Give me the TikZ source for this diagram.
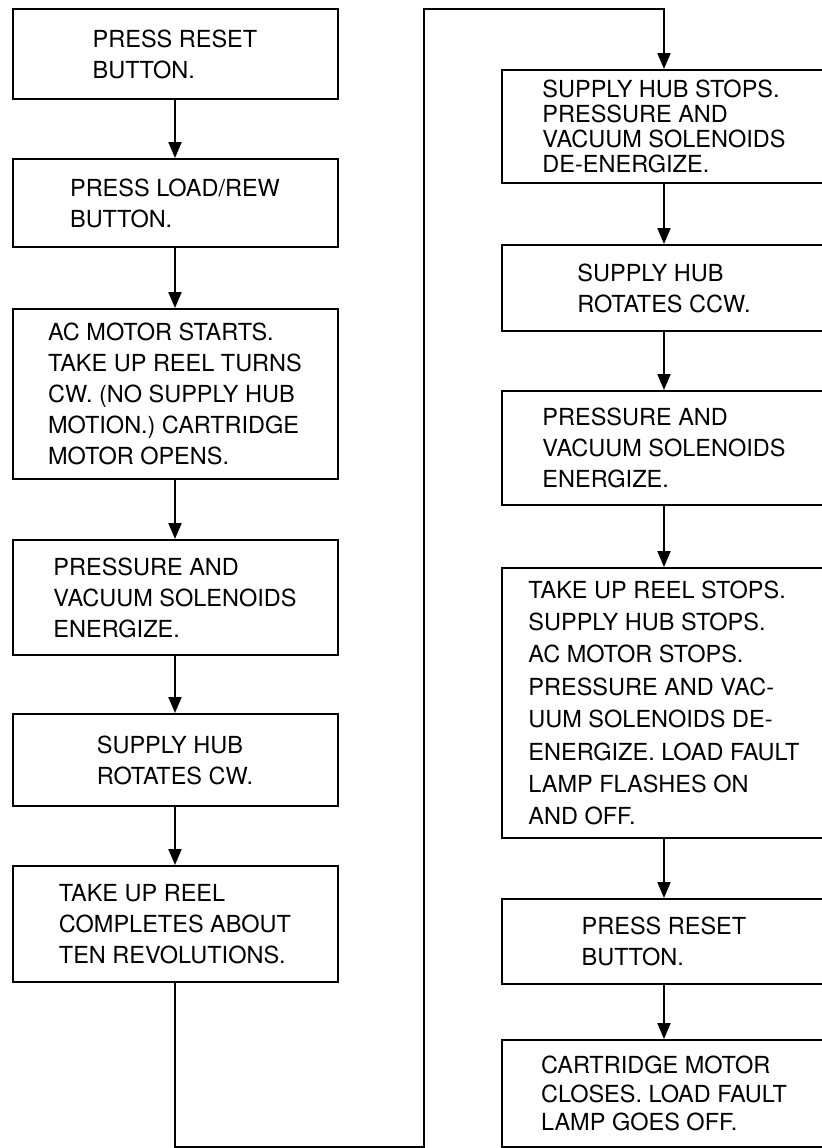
\documentclass[tikz,border=0pt]{standalone}
\usepackage{fontspec}
\setmainfont{TeX Gyre Heros}
\usepackage{tikz}
\usetikzlibrary{arrows.meta}

\begin{document}
\begin{tikzpicture}[x=1pt,y=-1pt]
		\clip (0,0) rectangle (411,574);
		\tikzstyle{every node}+=[draw,line width=1pt,rectangle,align=left,inner sep=0pt,font=\fontsize{11.75}{15.5}\selectfont]
		\tikzstyle{lcol}=[minimum width=162.5pt]
		\tikzstyle{rcol}=[minimum width=162pt]
		% left column
		\node[lcol,minimum height=45pt] (rst) at (87.5,27) {PRESS RESET\\BUTTON.};
		\node[lcol,minimum height=44pt] (load) at (87.5,101.5) {PRESS LOAD/REW\\BUTTON.};
		\node[lcol,minimum height=85pt] (acm) at (87.5,197) {AC MOTOR STARTS.\\TAKE UP REEL TURNS\\CW. (NO SUPPLY HUB\\MOTION.) CARTRIDGE\\MOTOR OPENS.};
		\node[lcol,minimum height=57.5pt] (pv) at (87.5,298.75) {PRESSURE AND\\VACUUM SOLENOIDS\\ENERGIZE.};
		\node[lcol,minimum height=46pt] (cw) at (87.5,380) {SUPPLY HUB\\ROTATES CW.};
		\node[lcol,minimum height=58pt] (ten) at (87.5,462) {TAKE UP REEL\\COMPLETES ABOUT\\TEN REVOLUTIONS.};
		% right column
		\node[rcol,minimum height=56.5pt,font=\fontsize{11.75}{12.6}\selectfont] (stop) at (332,63.25) {SUPPLY HUB STOPS.\\PRESSURE AND\\VACUUM SOLENOIDS\\DE-ENERGIZE.};
		\node[rcol,minimum height=43pt] (ccw) at (332,144) {SUPPLY HUB\\ROTATES CCW.};
		\node[rcol,minimum height=57pt] (pvb) at (332,224) {PRESSURE AND\\VACUUM SOLENOIDS\\ENERGIZE.};
		\node[rcol,minimum height=135pt,font=\fontsize{11.75}{16.2}\selectfont] (flt) at (332,351.5) {TAKE UP REEL STOPS.\\SUPPLY HUB STOPS.\\AC MOTOR STOPS.\\PRESSURE AND VAC-\\UUM SOLENOIDS DE-\\ENERGIZE. LOAD FAULT\\LAMP FLASHES ON\\AND OFF.};
		\node[rcol,minimum height=42.5pt] (rstb) at (332,470.75) {PRESS RESET\\BUTTON.};
		\node[rcol,minimum height=53.5pt,font=\fontsize{11.75}{14.3}\selectfont] (cls) at (332,546.75) {CARTRIDGE MOTOR\\CLOSES. LOAD FAULT\\LAMP GOES OFF.};
		% loop corners
		\coordinate (lb) at (212,573.5);
		\coordinate (lt) at (212,4.5);
		\tikzstyle{every edge}+=[-{Triangle[length=8pt,width=6.5pt]},line width=1pt]
		\draw
		(rst) edge (load)
		(load) edge (acm)
		(acm) edge (pv)
		(pv) edge (cw)
		(cw) edge (ten)
		(stop) edge (ccw)
		(ccw) edge (pvb)
		(pvb) edge (flt)
		(flt) edge (rstb)
		(rstb) edge (cls)
		;
		\draw[line width=1pt,-{Triangle[length=8pt,width=6.5pt]}] (ten) |- (lb) -- (lt) -| (stop);
\end{tikzpicture}
\end{document}
